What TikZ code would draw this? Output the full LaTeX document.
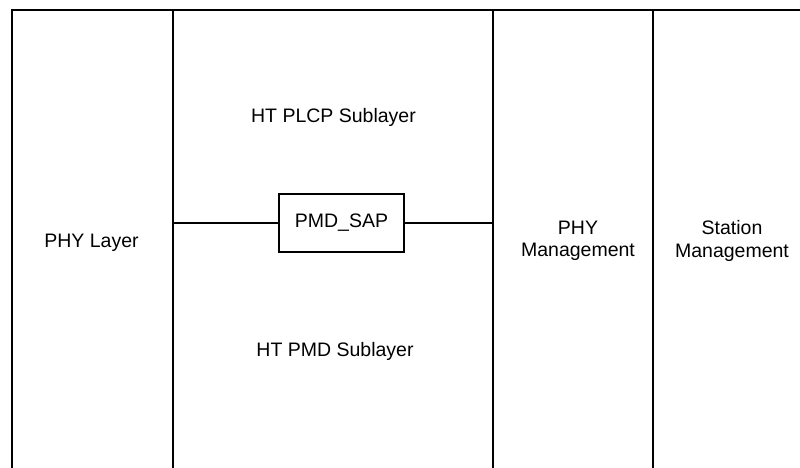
\documentclass[tikz,border=0pt]{standalone}
\usepackage{fontspec}
\setmainfont{Liberation Sans}
\begin{document}
\begin{tikzpicture}[x=1pt,y=-1pt,
  rule/.style={draw=black,line width=1.4pt},
  label/.style={font=\fontsize{19.5}{22.5}\selectfont,align=center,inner sep=0pt},
  sapbox/.style={draw=black,line width=1.2pt,minimum width=125pt,minimum height=58pt,inner sep=0pt,font=\fontsize{19.5}{22.5}\selectfont}]
\useasboundingbox (0,0) rectangle (800,468);
% column borders
\draw[rule] (12,468) -- (12,10) -- (800,10);
\draw[rule] (173,10) -- (173,468);
\draw[rule] (493,10) -- (493,468);
\draw[rule] (653,10) -- (653,468);
% service access point between the two sublayers
\coordinate (sapL) at (173,223);
\coordinate (sapR) at (493,223);
\node[sapbox] (sap) at (341.5,223) {PMD\_SAP};
\draw[line width=1.1pt] (sapL) -- (sap.west);
\draw[line width=1.1pt] (sap.east) -- (sapR);
% labels
\node[label] (phy) at (91.5,243) {PHY Layer};
\node[label] (plcp) at (333.5,117) {HT PLCP Sublayer};
\node[label] (pmd) at (335,351) {HT PMD Sublayer};
\node[label] (phymgmt) at (578,241) {PHY\\Management};
\node[label] (stamgmt) at (732,241) {Station\\Management};
\end{tikzpicture}
\end{document}
